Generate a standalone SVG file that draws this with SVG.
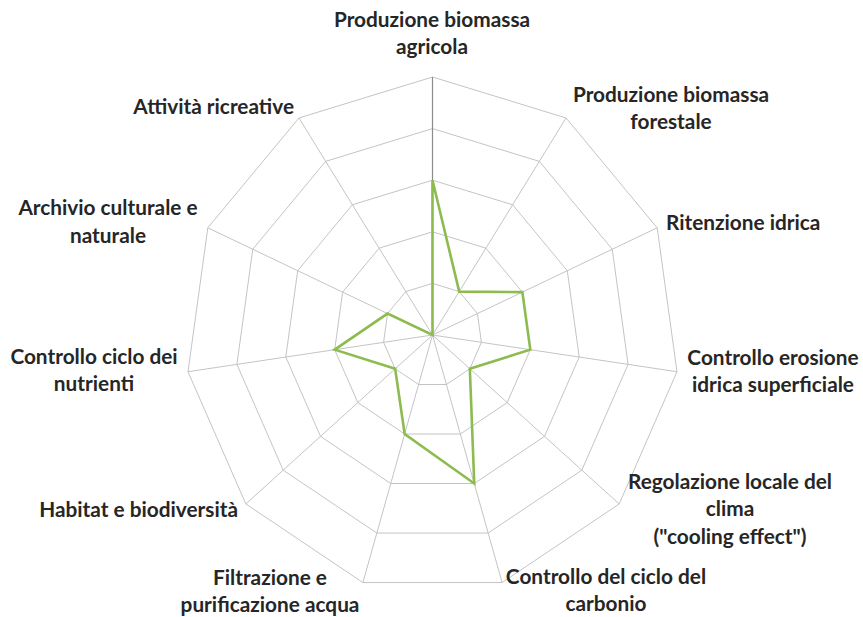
<svg xmlns="http://www.w3.org/2000/svg" width="863" height="617" viewBox="0 0 863 617">
<style>
.grid{fill:none;stroke:#c4c4c4;stroke-width:1}
.spoke{stroke:#c4c4c4;stroke-width:1}
.axis{stroke:#8c8c8c;stroke-width:1.2}
.data{fill:none;stroke:#8dbb4f;stroke-width:2.6;stroke-linejoin:miter}
text{font-family:Lato,"Liberation Sans",sans-serif;font-weight:700;font-size:20.8px;fill:#262626}
.m{text-anchor:middle}.e{text-anchor:end}
</style>
<rect width="863" height="617" fill="#ffffff"/>
<g id="grid">
<polygon class="grid" points="432.5,283.4 459.21,291.59 477.44,313.56 481.4,342.34 469.83,368.79 446.42,384.51 418.58,384.51 395.17,368.79 383.6,342.34 387.56,313.56 405.79,291.59"/>
<polygon class="grid" points="432.5,231.8 485.92,248.18 522.37,292.13 530.3,349.69 507.17,402.58 460.34,434.02 404.66,434.02 357.83,402.58 334.7,349.69 342.63,292.13 379.08,248.18"/>
<polygon class="grid" points="432.5,180.2 512.62,204.78 567.31,270.69 579.19,357.03 544.5,436.37 474.25,483.53 390.75,483.53 320.5,436.37 285.81,357.03 297.69,270.69 352.38,204.78"/>
<polygon class="grid" points="432.5,128.6 539.33,161.37 612.24,249.26 628.09,364.38 581.84,470.16 488.17,533.04 376.83,533.04 283.16,470.16 236.91,364.38 252.76,249.26 325.67,161.37"/>
<polygon class="grid" points="432.5,77 566.04,117.96 657.18,227.82 676.99,371.72 619.17,503.95 502.09,582.55 362.91,582.55 245.83,503.95 188.01,371.72 207.82,227.82 298.96,117.96"/>
</g>
<g id="connectors">
<line class="spoke" x1="432.5" y1="335" x2="566.04" y2="117.96"/>
<line class="spoke" x1="432.5" y1="335" x2="657.18" y2="227.82"/>
<line class="spoke" x1="432.5" y1="335" x2="676.99" y2="371.72"/>
<line class="spoke" x1="432.5" y1="335" x2="619.17" y2="503.95"/>
<line class="spoke" x1="432.5" y1="335" x2="502.09" y2="582.55"/>
<line class="spoke" x1="432.5" y1="335" x2="362.91" y2="582.55"/>
<line class="spoke" x1="432.5" y1="335" x2="245.83" y2="503.95"/>
<line class="spoke" x1="432.5" y1="335" x2="188.01" y2="371.72"/>
<line class="spoke" x1="432.5" y1="335" x2="207.82" y2="227.82"/>
<line class="spoke" x1="432.5" y1="335" x2="298.96" y2="117.96"/>
<line class="axis" x1="432.5" y1="335" x2="432.5" y2="77"/>
</g>
<g id="series">
<polygon class="data" points="432.5,180.2 459.21,291.59 522.37,292.13 530.3,349.69 469.83,368.79 474.25,483.53 404.66,434.02 395.17,368.79 334.7,349.69 387.56,313.56 432.5,335"/>
</g>
<g id="label-agricola"><text class="m" x="432" y="27">Produzione biomassa</text><text class="m" x="432" y="54">agricola</text></g>
<g id="label-forestale"><text class="m" x="671" y="102">Produzione biomassa</text><text class="m" x="671" y="129">forestale</text></g>
<g id="label-ritenzione"><text x="666" y="230">Ritenzione idrica</text></g>
<g id="label-erosione"><text class="m" x="773" y="365">Controllo erosione</text><text class="m" x="773" y="392">idrica superficiale</text></g>
<g id="label-clima"><text class="m" x="730" y="489">Regolazione locale del</text><text class="m" x="730" y="516">clima</text><text class="m" x="730" y="544">("cooling effect")</text></g>
<g id="label-carbonio"><text class="m" x="606" y="584">Controllo del ciclo del</text><text class="m" x="606" y="611">carbonio</text></g>
<g id="label-filtrazione"><text class="m" x="270" y="585">Filtrazione e</text><text class="m" x="270" y="612">purificazione acqua</text></g>
<g id="label-habitat"><text class="e" x="238" y="517">Habitat e biodiversità</text></g>
<g id="label-nutrienti"><text class="m" x="94" y="364">Controllo ciclo dei</text><text class="m" x="94" y="391">nutrienti</text></g>
<g id="label-archivio"><text class="m" x="108" y="215">Archivio culturale e</text><text class="m" x="108" y="243">naturale</text></g>
<g id="label-ricreative"><text class="e" x="294" y="114">Attività ricreative</text></g>
</svg>
